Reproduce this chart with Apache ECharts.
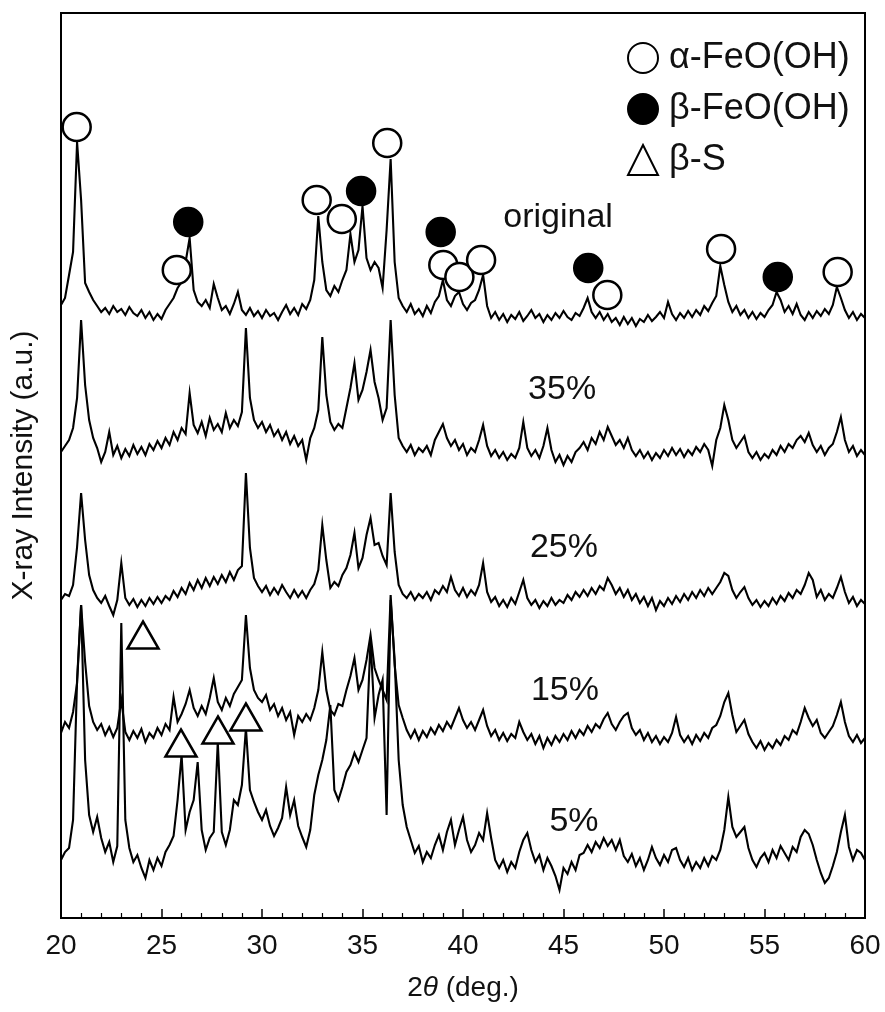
<!DOCTYPE html>
<html><head><meta charset="utf-8">
<script src="https://cdn.jsdelivr.net/npm/echarts@6/dist/echarts.min.js"></script>
<style>html,body{margin:0;padding:0;background:#fff}#c{width:885px;height:1012px}</style>
</head><body><div id="c"></div>
<script>
// 2θ sampling of the digitised patterns (deg.)
const ANGLE_START = 20, ANGLE_STEP = 0.2;
// Intensities (a.u., already offset as stacked in the figure)
const original = [
613,620,643,666,776,718,635,626,618,612,
606,610,604,612,606,609,603,611,605,602,
608,600,606,598,604,599,608,614,620,630,
636,656,680,628,616,612,618,610,634,620,
608,612,604,614,626,608,603,610,602,607,
600,608,602,605,598,606,613,604,610,603,
614,609,618,638,702,656,628,622,632,626,
638,648,684,656,668,712,660,648,656,650,
630,688,759,656,620,612,606,614,604,609,
602,612,605,616,622,638,618,612,622,626,
614,608,615,618,628,643,612,600,606,598,
604,596,603,599,606,597,602,608,600,604,
596,603,598,605,600,607,601,598,605,602,
610,620,606,600,606,598,604,596,600,593,
601,594,600,592,599,596,603,597,601,606,
600,616,604,598,605,600,607,601,608,603,
612,607,615,622,652,633,616,606,612,603,
608,600,606,599,605,601,608,613,626,618,
606,612,604,614,603,598,606,600,607,602,
609,604,613,631,620,608,600,606,598,604,600];
const pct35 = [
466,472,478,490,520,598,533,498,480,470,
456,466,486,463,472,460,469,462,473,464,
471,463,474,468,477,470,480,473,486,478,
490,484,525,493,485,496,482,500,488,494,
486,505,490,498,492,506,590,520,498,490,
496,486,493,482,488,478,486,474,482,472,
478,458,480,490,508,581,523,496,488,494,
490,510,530,555,518,528,546,568,536,520,
498,510,598,523,480,472,466,473,463,470,
466,472,463,478,486,494,480,472,478,468,
474,463,470,466,478,493,472,462,468,460,
466,458,464,460,470,496,470,462,468,460,
472,490,468,456,463,453,462,456,466,470,
476,468,480,474,486,478,491,482,473,478,
470,480,468,462,468,460,466,458,465,460,
468,462,470,463,469,461,468,463,471,466,
474,468,452,478,490,513,498,478,470,476,
482,466,460,466,458,464,460,468,463,472,
466,474,470,478,482,476,485,473,466,472,
463,470,474,486,501,478,466,472,462,468,463];
const pct25 = [
318,324,322,333,371,425,378,343,328,320,
315,322,312,303,318,355,320,313,319,311,
318,312,320,314,321,315,322,318,327,321,
330,324,335,328,338,330,340,332,341,334,
343,336,346,338,348,352,445,370,340,332,
326,332,323,330,324,333,326,320,328,321,
327,320,328,334,348,393,358,330,336,332,
343,350,363,385,350,360,383,400,373,375,
362,353,425,366,333,324,320,326,318,324,
320,326,318,328,324,332,326,341,328,322,
330,321,328,323,333,355,326,316,321,312,
318,311,320,314,326,338,320,313,318,310,
317,312,320,313,318,315,323,318,326,321,
328,322,330,324,332,328,340,333,324,330,
321,328,318,324,315,321,312,320,308,317,
312,320,314,322,316,324,318,326,320,328,
322,330,324,330,336,345,342,328,320,326,
331,320,313,318,311,317,312,320,314,322,
317,325,320,328,324,333,345,338,321,328,
318,324,320,330,341,326,315,321,312,318,314];
const pct15 = [
185,196,190,206,235,313,256,212,196,188,
194,183,191,181,190,218,186,178,187,180,
189,176,185,180,190,183,194,188,221,196,
204,214,228,210,202,212,204,220,240,216,
208,220,212,224,231,238,303,250,228,220,
216,223,208,214,202,210,198,206,183,202,
196,204,198,210,228,266,228,208,203,214,
212,228,242,260,228,238,258,283,250,238,
228,218,323,253,213,200,188,180,188,178,
187,181,190,184,193,187,196,190,200,210,
198,190,196,188,198,208,192,182,188,178,
185,177,184,180,196,186,178,184,174,182,
170,180,173,182,176,184,178,187,180,188,
183,192,186,194,190,199,205,194,188,196,
202,205,190,183,188,178,185,176,182,174,
181,176,185,201,183,176,182,174,183,177,
185,180,190,193,202,216,225,203,186,192,
198,184,176,170,177,168,175,170,178,173,
182,178,188,184,196,210,200,192,198,185,
180,186,192,203,216,196,182,176,183,175,180];
const pct5 = [
58,66,70,98,238,313,158,103,86,101,
80,66,76,56,72,295,98,70,56,63,
50,40,58,48,60,52,66,73,82,118,
163,88,106,118,156,88,68,80,86,176,
86,73,88,118,113,133,190,128,116,106,
98,108,92,82,90,100,131,103,118,92,
81,71,88,123,143,158,178,213,128,118,
131,146,153,165,156,168,180,278,200,223,
238,103,318,258,158,113,91,78,65,72,
56,66,60,73,83,68,86,98,73,88,
101,78,66,73,85,78,105,80,58,50,
58,46,56,50,66,78,85,68,56,63,
48,60,52,42,28,50,44,56,48,63,
65,73,66,76,70,80,72,78,68,78,
62,56,64,52,60,48,58,71,60,53,
63,56,68,70,58,51,60,48,56,50,
60,52,62,58,68,88,121,91,81,86,
91,70,58,51,60,65,56,68,60,72,
65,58,71,66,81,88,84,73,58,45,
35,40,52,66,86,103,71,58,68,65,58];

// Phase markers [2θ, height]
const alphaMarks = [[20.78,791],[25.76,648],[32.72,718],[33.97,699],[36.23,775],[39.02,653],[39.82,641],[40.90,658],[47.18,623],[52.84,669],[58.64,646]];
const betaMarks = [[26.33,696],[34.93,727],[38.89,686],[46.23,650],[55.66,641]];
const sulfurMarks = [[24.08,283],[25.97,175],[27.81,188],[29.20,201]];

// Sample labels [text, 2θ, height]
const sampleNames = ['original','35%','25%','15%','5%'];
const sampleLabelX = [44.73,44.93,45.02,45.07,45.52];
const sampleLabelY = [700,528,370,227,96];

const xTicks = [20,25,30,35,40,45,50,55,60];

const FONT = "'Liberation Sans', Arial, Helvetica, sans-serif";
const INK = '#111';

function toXY(arr){ return arr.map((v,i)=>[+(ANGLE_START + i*ANGLE_STEP).toFixed(2), v]); }
function trace(name, arr){
  return {name, type:'line', data: toXY(arr), showSymbol:false, symbol:'none',
    lineStyle:{color:'#000', width:2.1, join:'miter'}, silent:true, z:2};
}

const chart = echarts.init(document.getElementById('c'), null, {renderer:'canvas'});
chart.setOption({
  animation:false,
  backgroundColor:'#fff',
  grid:{left:61, right:20, top:13, bottom:94, show:true, borderColor:'#000', borderWidth:2, backgroundColor:'transparent'},
  legend:{
    orient:'vertical', left:622, top:35, itemWidth:30, itemHeight:30, itemGap:15,
    selectedMode:false,
    data:['α-FeO(OH)','β-FeO(OH)','β-S'],
    textStyle:{fontSize:36, color:INK, fontFamily:FONT, lineHeight:36, padding:[0,0,0,6]}
  },
  xAxis:{
    type:'value', min:xTicks[0], max:xTicks[xTicks.length-1], interval:5,
    axisLine:{show:true, lineStyle:{color:'#000', width:2}},
    axisTick:{show:true, inside:true, length:9, lineStyle:{color:'#000', width:1.5}},
    minorTick:{show:true, splitNumber:5, length:5, lineStyle:{color:'#000', width:1.2}},
    splitLine:{show:false},
    axisLabel:{fontSize:28, color:INK, fontFamily:FONT, margin:14, showMinLabel:true, showMaxLabel:true},
    name:'2{i|θ} (deg.)', nameLocation:'middle', nameGap:56,
    nameTextStyle:{fontSize:28, color:INK, fontFamily:FONT,
      rich:{i:{fontStyle:'italic', fontSize:28, color:INK, fontFamily:FONT}}}
  },
  yAxis:{
    type:'value', min:0, max:905,
    axisLine:{show:true, lineStyle:{color:'#000', width:2}},
    axisTick:{show:false}, axisLabel:{show:false}, splitLine:{show:false},
    name:'X-ray Intensity (a.u.)', nameLocation:'middle', nameGap:22,
    nameTextStyle:{fontSize:30, color:INK, fontFamily:FONT}
  },
  series:[
    trace('original', original),
    trace('35%', pct35),
    trace('25%', pct25),
    trace('15%', pct15),
    trace('5%', pct5),
    {name:'α-FeO(OH)', type:'scatter', symbol:'circle', symbolSize:28, data:alphaMarks, z:5, silent:true,
      itemStyle:{color:'#fff', borderColor:'#000', borderWidth:2.5, opacity:1}},
    {name:'β-FeO(OH)', type:'scatter', symbol:'circle', symbolSize:28, data:betaMarks, z:6, silent:true,
      itemStyle:{color:'#000', borderColor:'#000', borderWidth:2.5, opacity:1}},
    {name:'β-S', type:'scatter', symbol:'triangle', symbolSize:[31,27], data:sulfurMarks, z:5, silent:true,
      itemStyle:{color:'#fff', borderColor:'#000', borderWidth:2.5, opacity:1}},
    {name:'labels', type:'scatter', symbolSize:1, silent:true, z:7,
      itemStyle:{color:'rgba(0,0,0,0)', borderWidth:0},
      data: sampleNames.map((n,i)=>({name:n, value:[sampleLabelX[i], sampleLabelY[i]]})),
      label:{show:true, position:'inside', formatter:'{b}', fontSize:34, color:INK, fontFamily:FONT, opacity:1}}
  ]
});
</script></body></html>
